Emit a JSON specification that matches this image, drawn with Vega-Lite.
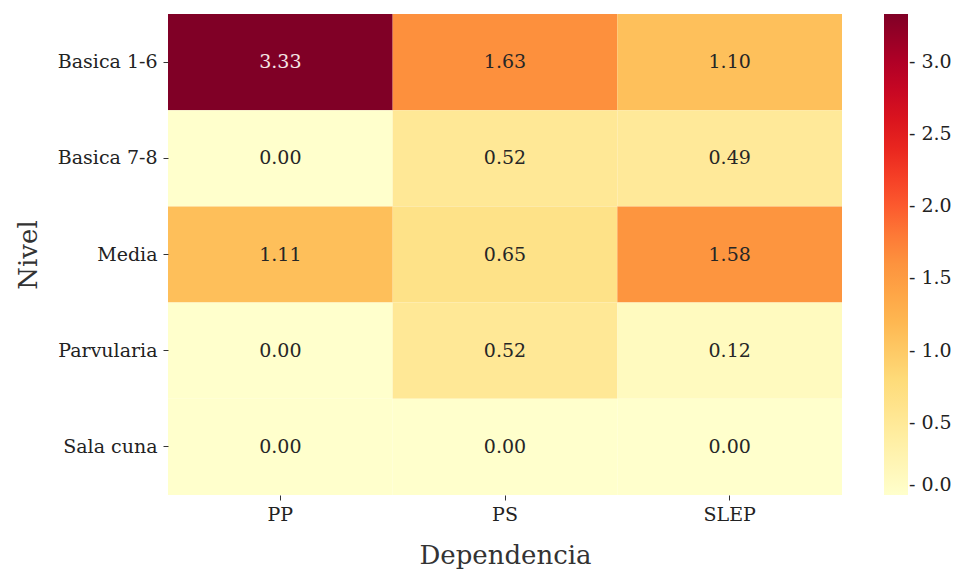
{
  "$schema": "https://vega.github.io/schema/vega-lite/v6.json",
  "autosize": "none",
  "width": 674,
  "height": 481,
  "padding": {"left": 168, "top": 14, "right": 111, "bottom": 74},
  "background": "white",
  "config": {
    "font": "DejaVu Serif",
    "view": {"stroke": null},
    "axis": {"labelFont": "DejaVu Serif", "titleFont": "DejaVu Serif", "labelColor": "#222", "titleColor": "#333", "tickColor": "#333", "domain": false, "grid": false}
  },
  "data": {
    "values": [
      {"Nivel": "Basica 1-6", "Dependencia": "PP", "v": 3.33},
      {"Nivel": "Basica 1-6", "Dependencia": "PS", "v": 1.63},
      {"Nivel": "Basica 1-6", "Dependencia": "SLEP", "v": 1.10},
      {"Nivel": "Basica 7-8", "Dependencia": "PP", "v": 0.00},
      {"Nivel": "Basica 7-8", "Dependencia": "PS", "v": 0.52},
      {"Nivel": "Basica 7-8", "Dependencia": "SLEP", "v": 0.49},
      {"Nivel": "Media", "Dependencia": "PP", "v": 1.11},
      {"Nivel": "Media", "Dependencia": "PS", "v": 0.65},
      {"Nivel": "Media", "Dependencia": "SLEP", "v": 1.58},
      {"Nivel": "Parvularia", "Dependencia": "PP", "v": 0.00},
      {"Nivel": "Parvularia", "Dependencia": "PS", "v": 0.52},
      {"Nivel": "Parvularia", "Dependencia": "SLEP", "v": 0.12},
      {"Nivel": "Sala cuna", "Dependencia": "PP", "v": 0.00},
      {"Nivel": "Sala cuna", "Dependencia": "PS", "v": 0.00},
      {"Nivel": "Sala cuna", "Dependencia": "SLEP", "v": 0.00}
    ]
  },
  "encoding": {
    "x": {
      "field": "Dependencia", "type": "nominal",
      "sort": ["PP", "PS", "SLEP"],
      "scale": {"paddingInner": 0, "paddingOuter": 0},
      "axis": {"title": "Dependencia", "labelAngle": 0, "labelFontSize": 19, "titleFontSize": 26, "titleFontWeight": "normal", "tickSize": 5, "labelPadding": 5, "titlePadding": 18}
    },
    "y": {
      "field": "Nivel", "type": "nominal",
      "sort": ["Basica 1-6", "Basica 7-8", "Media", "Parvularia", "Sala cuna"],
      "scale": {"paddingInner": 0, "paddingOuter": 0},
      "axis": {"title": "Nivel", "labelFontSize": 19, "titleFontSize": 26, "titleFontWeight": "normal", "tickSize": 5, "labelPadding": 6, "titlePadding": 16}
    }
  },
  "layer": [
    {
      "mark": {"type": "rect"},
      "encoding": {
        "color": {
          "field": "v", "type": "quantitative",
          "scale": {"domain": [0, 3.33], "range": ["#ffffcc", "#ffeda0", "#fed976", "#feb24c", "#fd8d3c", "#fc4e2a", "#e31a1c", "#bd0026", "#800026"], "interpolate": "rgb"},
          "legend": {
            "title": null,
            "orient": "right",
            "offset": 42,
            "gradientLength": 481,
            "gradientThickness": 24,
            "gradientStrokeWidth": 0,
            "values": [0, 0.5, 1, 1.5, 2, 2.5, 3],
            "format": ".1f",
            "labelExpr": "'- ' + datum.label",
            "labelFont": "DejaVu Serif",
            "labelFontSize": 19,
            "labelColor": "#222",
            "labelOffset": 1,
            "labelOverlap": false
          }
        }
      }
    },
    {
      "mark": {"type": "text", "fontSize": 19, "font": "DejaVu Serif"},
      "encoding": {
        "text": {"field": "v", "type": "quantitative", "format": ".2f"},
        "color": {"condition": {"test": "datum.v > 2", "value": "#f5e6e6"}, "value": "#262626"}
      }
    }
  ]
}
